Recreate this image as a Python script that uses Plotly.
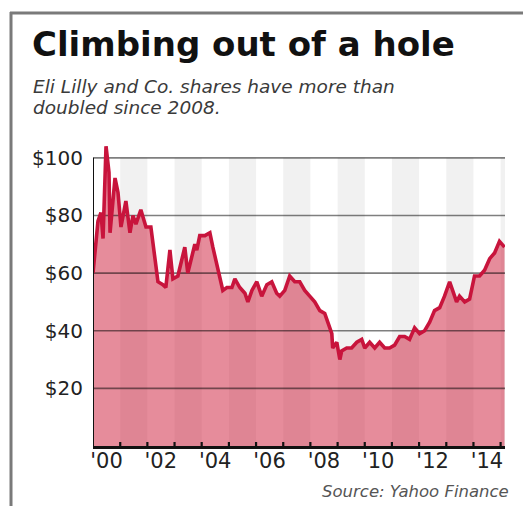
import plotly.graph_objects as go

# ---- data ----
dates = [
    "2000-01-01", "2000-03-08", "2000-04-17", "2000-05-15", "2000-06-24", "2000-08-03", "2000-08-17", "2000-10-23", "2000-12-02",
    "2001-01-11", "2001-03-18", "2001-05-12", "2001-06-21", "2001-07-31", "2001-10-05", "2001-12-13",
    "2002-02-17", "2002-04-13", "2002-05-23", "2002-07-28", "2002-09-06", "2002-10-31", "2002-12-10",
    "2003-02-15", "2003-05-19", "2003-06-28", "2003-10-01", "2003-10-27", "2003-12-06",
    "2004-02-13", "2004-04-20", "2004-05-30", "2004-07-23", "2004-09-01", "2004-10-11", "2004-12-05",
    "2005-02-10", "2005-03-22", "2005-05-27", "2005-08-04", "2005-09-13", "2005-11-06",
    "2006-01-11", "2006-03-18", "2006-05-26", "2006-07-31", "2006-10-05", "2006-11-15",
    "2007-01-22", "2007-03-29", "2007-06-05", "2007-08-11", "2007-10-17", "2007-12-23",
    "2008-02-28", "2008-05-07", "2008-07-12", "2008-08-22", "2008-10-15", "2008-10-27", "2008-12-21",
    "2009-01-31", "2009-02-25", "2009-05-03", "2009-07-08", "2009-09-16", "2009-11-21",
    "2010-01-01", "2010-03-08", "2010-05-15", "2010-07-20", "2010-09-26", "2010-12-01",
    "2011-02-06", "2011-04-15", "2011-06-21", "2011-08-26", "2011-11-02",
    "2012-01-08", "2012-03-16", "2012-05-22", "2012-07-27", "2012-10-04", "2012-12-08",
    "2013-02-15", "2013-03-27", "2013-05-19", "2013-06-28", "2013-09-05", "2013-11-10",
    "2014-01-15", "2014-03-24", "2014-05-30", "2014-08-07", "2014-10-12", "2014-12-17",
    "2015-02-23",
]
prices = [
    60, 78, 81, 72, 104, 95, 74, 93, 88,
    76, 85, 74, 80, 77, 82, 76,
    76, 66, 57, 56, 55, 68, 58,
    59, 69, 60, 70, 68, 73,
    73, 74, 69, 63, 59, 54, 55,
    55, 58, 55, 53, 50, 54,
    57, 52, 56, 57, 53, 52,
    54, 59, 57, 57, 54, 52,
    50, 47, 46, 43, 39, 34, 36,
    30, 33, 34, 34, 36, 37,
    34, 36, 34, 36, 34, 34,
    35, 38, 38, 37, 41,
    39, 40, 43, 47, 48, 52,
    57, 54, 50, 52, 50, 51,
    59, 59, 61, 65, 67, 71,
    69,
]
y_ticks = [20, 40, 60, 80, 100]
y_tick_labels = ["$20", "$40", "$60", "$80", "$100"]
x_label_years = [2000, 2002, 2004, 2006, 2008, 2010, 2012, 2014]
x_tick_labels = ["'00", "'02", "'04", "'06", "'08", "'10", "'12", "'14"]
tick_years = list(range(2001, 2016))
stripe_years = [2001, 2003, 2005, 2007, 2009, 2011, 2013, 2015]

title = "Climbing out of a hole"
subtitle_1 = "Eli Lilly and Co. shares have more than"
subtitle_2 = "doubled since 2008."
source = "Source: Yahoo Finance"

# ---- styling / layout ----
W, H = 523, 506
L, R, T, B = 93, 18, 142, 60
PW, PH = W - L - R, H - T - B
x_start, x_end = "2000-01-01", "2015-03-01"
y_max = 105.5
RED = "#c8143c"
FILL = "rgba(205,25,55,0.5)"
FONT = "DejaVu Sans"


def px(x):
    return (x - L) / PW


def py(y):
    return (H - B - y) / PH


fig = go.Figure()

# area fill
fig.add_trace(go.Scatter(x=dates, y=prices, mode="lines", line=dict(width=0),
                         fill="tozeroy", fillcolor=FILL, hoverinfo="skip", showlegend=False))
# gridlines (above fill, below the price line)
for v in y_ticks:
    fig.add_trace(go.Scatter(x=[x_start, x_end], y=[v, v], mode="lines",
                             line=dict(color="rgba(0,0,0,0.5)", width=1.7),
                             hoverinfo="skip", showlegend=False))
# price line
fig.add_trace(go.Scatter(x=dates, y=prices, mode="lines",
                         line=dict(color=RED, width=3.6, shape="linear"),
                         showlegend=False))

shapes = []
# alternating year stripes
for yr in stripe_years:
    shapes.append(dict(type="rect", xref="x", yref="y", x0=f"{yr}-01-01",
                       x1=min(f"{yr + 1}-01-01", x_end), y0=0, y1=100,
                       fillcolor="#f1f1f1", line=dict(width=0), layer="below"))
# year boundary tick marks (inside)
for yr in tick_years:
    shapes.append(dict(type="line", xref="x", yref="paper", x0=f"{yr}-01-01", x1=f"{yr}-01-01",
                       y0=0, y1=4 / PH, line=dict(color="#111", width=2.2), layer="above"))
# y axis line (0..100)
shapes.append(dict(type="line", xref="x", yref="y", x0=x_start, x1=x_start, y0=0, y1=100,
                   line=dict(color="#111", width=2), layer="above"))
# frame lines
shapes.append(dict(type="line", xref="paper", yref="paper", x0=px(10), x1=px(523),
                   y0=py(13), y1=py(13), line=dict(color="#7a7a7a", width=3)))
shapes.append(dict(type="line", xref="paper", yref="paper", x0=px(11), x1=px(11),
                   y0=py(12), y1=py(506), line=dict(color="#7a7a7a", width=3)))

annotations = [
    dict(text=f"<b>{title}</b>", x=px(30), y=py(44), xref="paper", yref="paper",
         xanchor="left", yanchor="middle", showarrow=False,
         font=dict(family=FONT, size=34, color="#111")),
    dict(text=f"<i>{subtitle_1}</i>", x=px(31), y=py(87), xref="paper", yref="paper",
         xanchor="left", yanchor="middle", showarrow=False,
         font=dict(family=FONT, size=18.5, color="#3a3a3a")),
    dict(text=f"<i>{subtitle_2}</i>", x=px(31), y=py(108), xref="paper", yref="paper",
         xanchor="left", yanchor="middle", showarrow=False,
         font=dict(family=FONT, size=18.5, color="#3a3a3a")),
    dict(text=f"<i>{source}</i>", x=px(511), y=py(491), xref="paper", yref="paper",
         xanchor="right", yanchor="middle", showarrow=False,
         font=dict(family=FONT, size=16.5, color="#555")),
]

fig.update_layout(
    width=W, height=H,
    margin=dict(l=L, r=R, t=T, b=B, pad=0),
    paper_bgcolor="white", plot_bgcolor="white",
    shapes=shapes, annotations=annotations,
    showlegend=False,
    xaxis=dict(
        type="date", range=[x_start, x_end],
        tickmode="array",
        tickvals=[f"{y}-07-01" for y in x_label_years],
        ticktext=x_tick_labels,
        ticks="", showgrid=False, zeroline=False,
        showline=True, linecolor="#111", linewidth=2.5,
        ticklabelstandoff=-6,
        tickfont=dict(family=FONT, size=21, color="#222"),
    ),
    yaxis=dict(
        range=[0, y_max], tickmode="array", tickvals=y_ticks, ticktext=y_tick_labels,
        ticks="", showgrid=False, zeroline=False, showline=False,
        ticklabelstandoff=9,
        tickfont=dict(family=FONT, size=20, color="#222"),
    ),
)

fig.write_html("out.html")
